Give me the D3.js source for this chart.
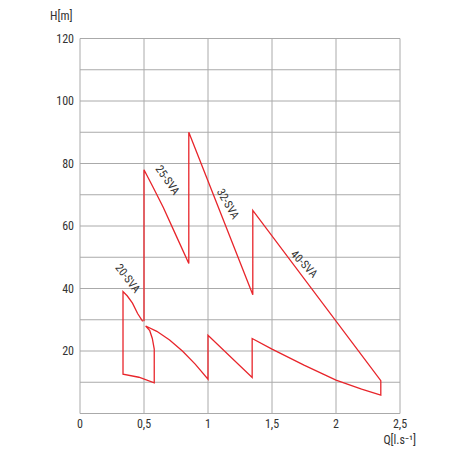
<!DOCTYPE html>
<html><head><meta charset="utf-8">
<script src="https://cdn.jsdelivr.net/npm/d3@7"></script>
<style>body{margin:0;background:#fff}text{font-family:"Liberation Sans Narrow","Roboto Condensed","Liberation Sans",sans-serif;fill:#333}</style>
</head><body><div id="chart"></div>
<script>
// outline of the pump ranges, [Q, H]
const outline = [
  [0.49,29.5],[0.45,32],[0.41,35.3],[0.37,37.6],[0.336,39],[0.336,12.6],[0.46,11.6],[0.58,9.8],
  [0.58,20.6],[0.565,24],[0.545,26.5],[0.513,28],[0.6,26.3],[0.7,23.5],[0.8,20],[0.9,15.8],[1.0,11],
  [1.0,25],[1.345,11.5],[1.345,24],[1.5,20.6],[1.75,15.5],[2.0,10.7],[2.2,7.8],[2.35,5.9],
  [2.35,10.5],[1.35,65],[1.35,38],[0.85,90],[0.85,48],[0.75,57],[0.65,66],[0.57,72.5],[0.5,78],[0.5,29.5]
]
const seriesLabels = [
  {name:"20-SVA", q:0.35, h:42.5, rot:52},
  {name:"25-SVA", q:0.66, h:74, rot:55},
  {name:"32-SVA", q:1.13, h:66.5, rot:60},
  {name:"40-SVA", q:1.73, h:47, rot:46}
]
const xTicks = [0,0.5,1,1.5,2,2.5]
const yTicks = [20,40,60,80,100,120]

const svg = d3.select("#chart").append("svg").attr("width",469).attr("height",469)
const x = d3.scaleLinear().domain([0,2.5]).range([80,400])
const y = d3.scaleLinear().domain([0,120]).range([413.5,38.5])

// grid
svg.selectAll(".vg").data(xTicks).join("line")
  .attr("x1",d=>x(d)).attr("x2",d=>x(d)).attr("y1",y(120)).attr("y2",y(0))
  .attr("stroke","#aaa").attr("stroke-width",1)
svg.selectAll(".hg").data(d3.range(0,121,10)).join("line")
  .attr("x1",x(0)).attr("x2",x(2.5)).attr("y1",d=>y(d)).attr("y2",d=>y(d))
  .attr("stroke","#aaa").attr("stroke-width",1)

svg.selectAll(".xt").data(xTicks).join("text")
  .attr("x",d=>x(d)).attr("y",428).attr("text-anchor","middle").style("font-size","12px")
  .text(d=>String(d).replace(".",","))
svg.selectAll(".yt").data(yTicks).join("text")
  .attr("x",74).attr("y",d=>y(d)+4).attr("text-anchor","end").style("font-size","12px").text(d=>d)
svg.append("text").attr("x",50).attr("y",20).style("font-size","12px").text("H[m]")
svg.append("text").attr("x",416).attr("y",444).attr("text-anchor","end").style("font-size","12px").text("Q[l.s\u207B\u00B9]")

svg.append("path").datum(outline)
  .attr("d",d3.line().x(d=>x(d[0])).y(d=>y(d[1])))
  .attr("fill","none").attr("stroke","#e8252b").attr("stroke-width",1.3)

svg.selectAll(".sl").data(seriesLabels).join("text")
  .attr("transform",d=>`translate(${x(d.q)},${y(d.h)}) rotate(${d.rot})`)
  .attr("text-anchor","middle").style("font-size","11.5px").text(d=>d.name)
</script></body></html>
